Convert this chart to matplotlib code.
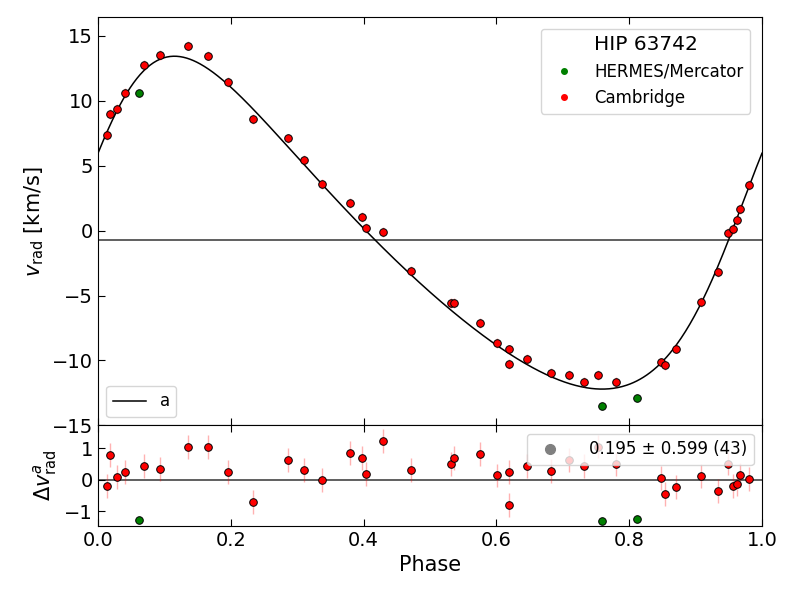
import numpy as np
import matplotlib
matplotlib.use("Agg")
import matplotlib.pyplot as plt
from matplotlib.lines import Line2D

# ---- data ----
phase_cam = [0.0136, 0.0186, 0.029, 0.040, 0.0688, 0.0929, 0.1355, 0.166, 0.196, 0.234,
             0.2857, 0.3107, 0.337, 0.380, 0.3976, 0.403, 0.429, 0.472, 0.5316, 0.5357,
             0.5758, 0.601, 0.6185, 0.6195, 0.6466, 0.682, 0.710, 0.732, 0.7535, 0.7806,
             0.848, 0.854, 0.871, 0.908, 0.933, 0.949, 0.956, 0.962, 0.9664, 0.980]
v_cam = [7.38, 8.97, 9.38, 10.59, 12.77, 13.56, 14.26, 13.49, 11.46, 8.59,
         7.10, 5.41, 3.62, 2.10, 1.03, 0.20, -0.08, -3.08, -5.59, -5.59,
         -7.08, -8.67, -9.15, -10.26, -9.87, -10.95, -11.15, -11.67, -11.15, -11.64,
         -10.15, -10.33, -9.08, -5.49, -3.18, -0.18, 0.10, 0.79, 1.69, 3.49]
res_cam = [-0.19, 0.79, 0.09, 0.25, 0.45, 0.35, 1.03, 1.04, 0.24, -0.71,
           0.62, 0.32, 0.0, 0.85, 0.70, 0.18, 1.22, 0.32, 0.51, 0.70,
           0.81, 0.14, 0.25, -0.81, 0.44, 0.28, 0.64, 0.43, 1.06, 0.49,
           0.05, -0.44, -0.24, 0.12, -0.35, 0.52, -0.19, -0.12, 0.15, 0.03]
err_cam = [0.38] * len(phase_cam)

phase_her = [0.061, 0.7595, 0.811]
v_her = [10.64, -13.51, -12.87]
res_her = [-1.26, -1.29, -1.23]

# orbital elements of the drawn model curve
ecc = 0.25
omega = -1.1405      # rad
K_amp = 12.82        # km/s
gamma = -0.72        # km/s
T_peri = 0.0         # phase of periastron

stats_label = "0.195 ± 0.599 (43)"

# ---- model curve ----
def kepler(M, e):
    E = M.copy()
    for _ in range(40):
        E = E - (E - e*np.sin(E) - M) / (1 - e*np.cos(E))
    return E

ph = np.linspace(0, 1, 600)
E = kepler(2*np.pi*(ph - T_peri), ecc)
nu = 2*np.arctan2(np.sqrt(1+ecc)*np.sin(E/2), np.sqrt(1-ecc)*np.cos(E/2))
v_model = gamma + K_amp*(np.cos(nu + omega) + ecc*np.cos(omega))

# ---- figure ----
fig = plt.figure(figsize=(8, 6), dpi=100)
ax = fig.add_axes([0.1225, 0.291, 0.83, 0.6805])
axr = fig.add_axes([0.1225, 0.1235, 0.83, 0.1675], sharex=ax)

tick_kw = dict(direction='in', top=True, right=False, labelsize=14, length=5)

# top panel
ax.axhline(gamma, color='#444444', lw=1.2, zorder=1)
line, = ax.plot(ph, v_model, color='k', lw=1.1, zorder=2)
ax.errorbar(phase_cam, v_cam, yerr=err_cam, fmt='none', ecolor='red', alpha=0.3,
            elinewidth=1, zorder=3)
ax.scatter(phase_her, v_her, s=30, c='green', edgecolors='k', linewidths=0.7, zorder=4)
ax.scatter(phase_cam, v_cam, s=30, c='red', edgecolors='k', linewidths=0.7, zorder=4)
ax.set_xlim(0, 1)
ax.set_ylim(-15, 16.45)
ax.set_yticks([-15, -10, -5, 0, 5, 10, 15])
ax.set_ylabel(r"$v_\mathrm{rad}$ [km/s]", fontsize=15)
ax.tick_params(axis='both', **tick_kw)
ax.tick_params(axis='x', labelbottom=False)

h_her = Line2D([], [], ls='none', marker='o', ms=4, mfc='green', mec='green')
h_cam = Line2D([], [], ls='none', marker='o', ms=4, mfc='red', mec='red')
leg1 = ax.legend([h_her, h_cam], ["HERMES/Mercator", "Cambridge"], loc='upper right',
                 title="HIP 63742", title_fontsize=14.5, fontsize=12,
                 borderaxespad=0.7)
ax.add_artist(leg1)
ax.legend([line], ["a"], loc='lower left', fontsize=12)

# residual panel
axr.axhline(0, color='#444444', lw=1.2, zorder=1)
axr.errorbar(phase_cam, res_cam, yerr=err_cam, fmt='none', ecolor='red', alpha=0.3,
             elinewidth=1, zorder=3)
axr.scatter(phase_her, res_her, s=30, c='green', edgecolors='k', linewidths=0.7, zorder=4)
axr.scatter(phase_cam, res_cam, s=30, c='red', edgecolors='k', linewidths=0.7, zorder=4)
axr.set_ylim(-1.46, 1.73)
axr.set_yticks([-1, 0, 1])
axr.set_xticks([0, 0.2, 0.4, 0.6, 0.8, 1.0])
axr.set_xlabel("Phase", fontsize=15)
axr.set_ylabel(r"$\Delta v^{a}_\mathrm{rad}$", fontsize=15)
axr.tick_params(axis='both', **tick_kw)
h_stat = Line2D([], [], ls='none', marker='o', ms=7, mfc='grey', mec='grey')
axr.legend([h_stat], [stats_label], loc='upper right', fontsize=12, framealpha=0.8,
           handletextpad=1.3)

fig.savefig("out.png", dpi=100)
